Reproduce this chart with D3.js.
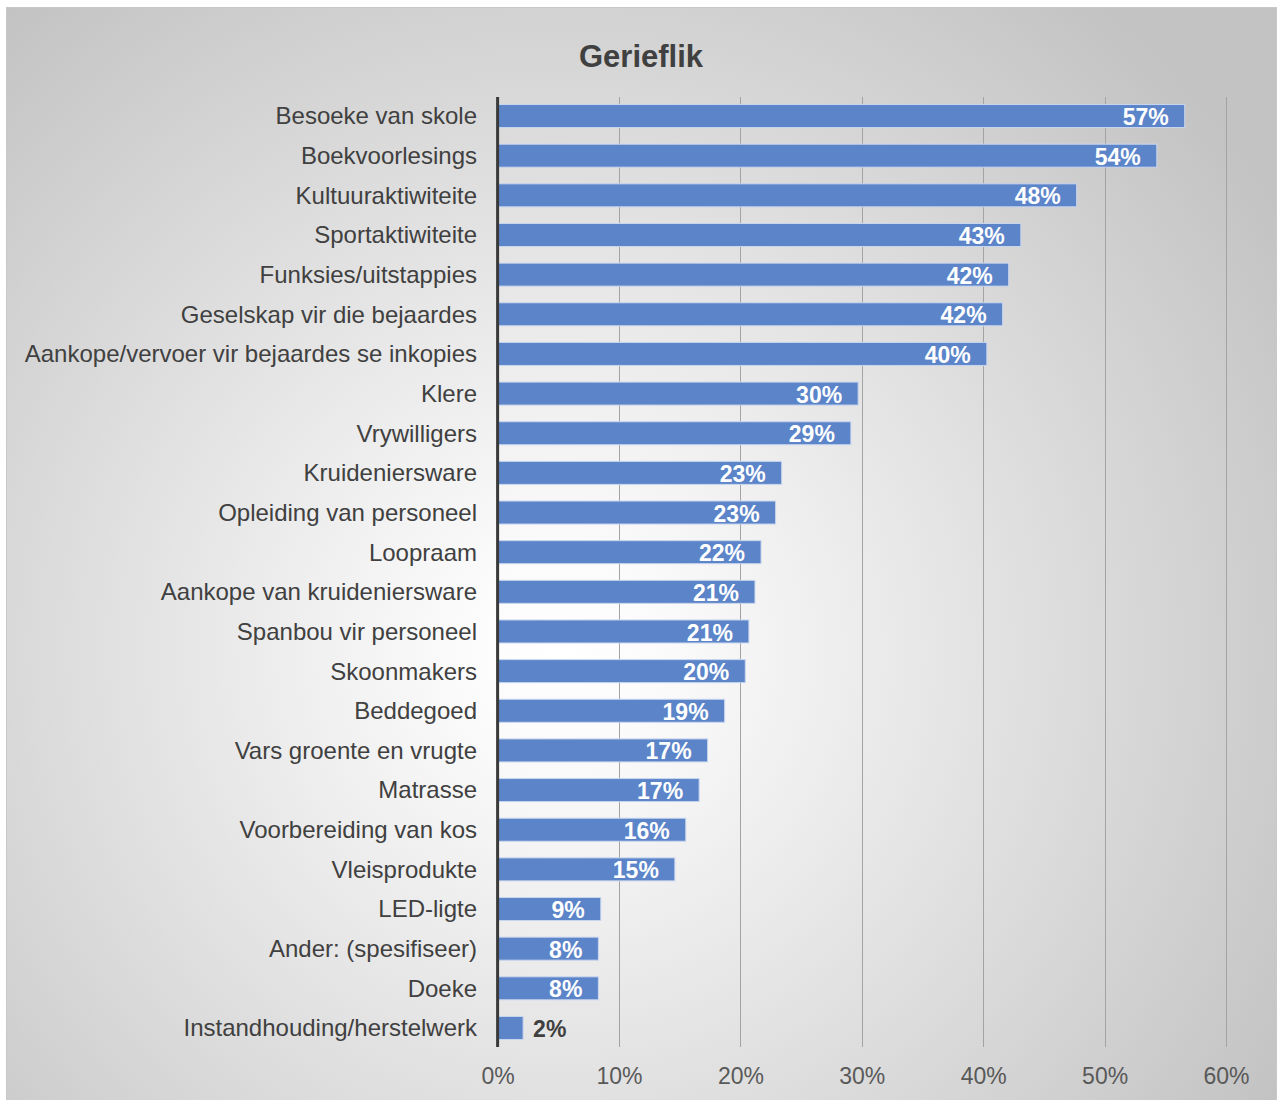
<!DOCTYPE html>
<html>
<head>
<meta charset="utf-8">
<script src="https://cdn.jsdelivr.net/npm/d3@7"></script>
<style>
html,body{margin:0;padding:0;background:#fff;}
svg{display:block;font-family:"Liberation Sans",Arial,sans-serif;}
</style>
</head>
<body>
<svg id="chart" width="1278" height="1100"></svg>
<script>
const title = "Gerieflik";
const categories = [
  "Besoeke van skole",
  "Boekvoorlesings",
  "Kultuuraktiwiteite",
  "Sportaktiwiteite",
  "Funksies/uitstappies",
  "Geselskap vir die bejaardes",
  "Aankope/vervoer vir bejaardes se inkopies",
  "Klere",
  "Vrywilligers",
  "Kruideniersware",
  "Opleiding van personeel",
  "Loopraam",
  "Aankope van kruideniersware",
  "Spanbou vir personeel",
  "Skoonmakers",
  "Beddegoed",
  "Vars groente en vrugte",
  "Matrasse",
  "Voorbereiding van kos",
  "Vleisprodukte",
  "LED-ligte",
  "Ander: (spesifiseer)",
  "Doeke",
  "Instandhouding/herstelwerk"
];
const values = [56.6, 54.3, 47.7, 43.1, 42.1, 41.6, 40.3, 29.7, 29.1, 23.4, 22.9, 21.7, 21.2, 20.7, 20.4, 18.7, 17.3, 16.6, 15.5, 14.6, 8.5, 8.3, 8.3, 2.1];
const valueLabels = ["57%","54%","48%","43%","42%","42%","40%","30%","29%","23%","23%","22%","21%","21%","20%","19%","17%","17%","16%","15%","9%","8%","8%","2%"];
const tickValues = [0, 10, 20, 30, 40, 50, 60];

const svg = d3.select("#chart");
const W = 1278, H = 1100;

// background gradient
const defs = svg.append("defs");
const rg = defs.append("radialGradient").attr("id","bg")
  .attr("gradientUnits","userSpaceOnUse")
  .attr("cx",560).attr("cy",650).attr("r",840);
rg.append("stop").attr("offset","0").attr("stop-color","#ffffff");
rg.append("stop").attr("offset","0.12").attr("stop-color","#fbfbfb");
rg.append("stop").attr("offset","1").attr("stop-color","#c3c3c3");

svg.append("rect").attr("x",6.5).attr("y",7.5).attr("width",1270).attr("height",1100)
  .attr("fill","url(#bg)").attr("stroke","#c8c8c8").attr("stroke-width",1);

const plotTop = 97, plotBottom = 1047;
const x = d3.scaleLinear().domain([0,60]).range([497.6, 1226]);
const y = d3.scaleBand().domain(categories).range([plotTop, plotBottom]).paddingInner(0.42).paddingOuter(0.19);

// gridlines
svg.append("g").selectAll("line").data(tickValues.slice(1)).join("line")
  .attr("x1", d => Math.round(x(d)) + 0.5).attr("x2", d => Math.round(x(d)) + 0.5)
  .attr("y1", plotTop).attr("y2", plotBottom)
  .attr("stroke","#a3a3a3").attr("stroke-width",1);

// bars
svg.append("g").selectAll("rect").data(values).join("rect")
  .attr("x", x(0))
  .attr("y", (d,i) => y(categories[i]))
  .attr("width", d => x(d) - x(0))
  .attr("height", y.bandwidth())
  .attr("fill","#5b84c9")
  .attr("stroke","#c9d6ef").attr("stroke-width",1);

// axis line
svg.append("line").attr("x1", x(0)).attr("x2", x(0)).attr("y1", plotTop).attr("y2", plotBottom)
  .attr("stroke","#3a3a3a").attr("stroke-width",3);

// x tick labels via axis
const xAxis = d3.axisBottom(x).tickValues(tickValues).tickFormat(d => d + "%").tickSize(0).tickPadding(0);
const gx = svg.append("g").attr("transform", `translate(0, 1084)`).call(xAxis);
gx.select(".domain").remove();
gx.selectAll("text").attr("dy", 0).attr("y", 0)
  .attr("font-family","Liberation Sans, Arial, sans-serif")
  .attr("font-size", 23).attr("fill","#595959");

// category labels via axis
const yAxis = d3.axisLeft(y).tickSize(0).tickPadding(0);
const gy = svg.append("g").attr("transform", `translate(477,0)`).call(yAxis);
gy.select(".domain").remove();
gy.selectAll("text").attr("x", 0).attr("dy", "0.35em")
  .attr("font-family","Liberation Sans, Arial, sans-serif")
  .attr("font-size", 24).attr("fill","#404040");

// data labels
svg.append("g").selectAll("text").data(values).join("text")
  .attr("x", (d,i) => d < 5 ? x(d) + 10 : x(d) - 16)
  .attr("y", (d,i) => y(categories[i]) + y.bandwidth()/2 + 1)
  .attr("dy","0.35em")
  .attr("text-anchor", d => d < 5 ? "start" : "end")
  .attr("font-size", 23).attr("font-weight","bold")
  .attr("fill", d => d < 5 ? "#404040" : "#ffffff")
  .text((d,i) => valueLabels[i]);

// title
svg.append("text").attr("x", 641).attr("y", 67).attr("text-anchor","middle")
  .attr("font-size", 31).attr("font-weight","bold").attr("fill","#404040")
  .text(title);
</script>
</body>
</html>
